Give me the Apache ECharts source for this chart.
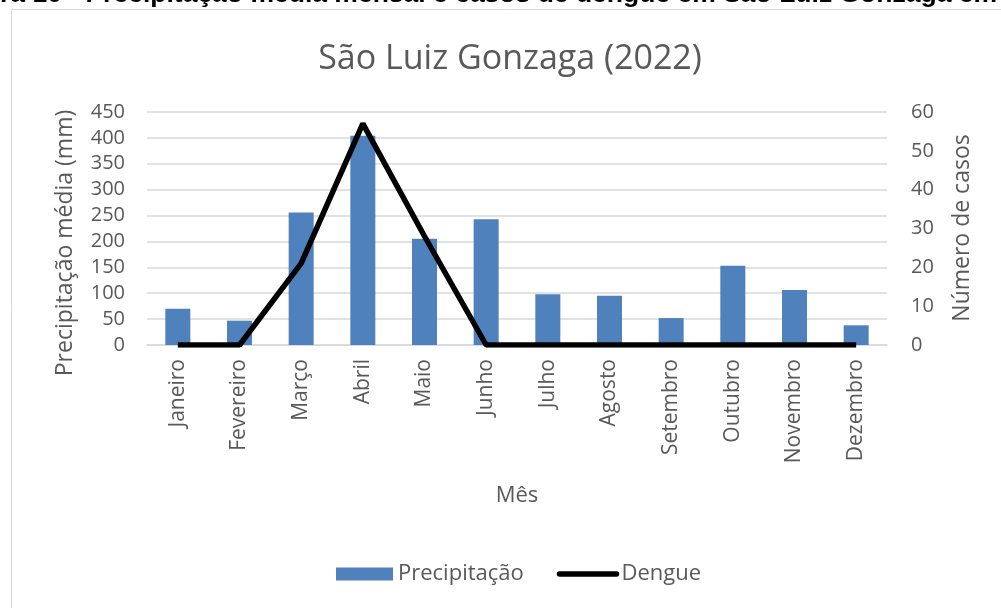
<!DOCTYPE html>
<html>
<head>
<meta charset="utf-8">
<script src="https://cdn.jsdelivr.net/npm/echarts@6/dist/echarts.min.js"></script>
<style>
  html, body { margin: 0; padding: 0; background: #fff; }
  #chart { width: 1001px; height: 608px; }
</style>
</head>
<body>
<div id="chart"></div>
<script>
// dados
const meses = ['Janeiro', 'Fevereiro', 'Março', 'Abril', 'Maio', 'Junho',
  'Julho', 'Agosto', 'Setembro', 'Outubro', 'Novembro', 'Dezembro'];
const precipitacao = [70, 47, 256, 404, 205, 243, 98, 95, 52, 153, 106, 38];
const dengue = [0, 0, 21, 57, 28, 0, 0, 0, 0, 0, 0, 0];
const ticksPrecip = [0, 450, 50];   // min, max, intervalo
const ticksCasos = [0, 60, 10];

const cinza = '#595959';
const fonte = '"Open Sans", Lato, sans-serif';

const myChart = echarts.init(document.getElementById('chart'));

myChart.setOption({
  animation: false,
  textStyle: { fontFamily: fonte },
  title: {
    text: 'São Luiz Gonzaga (2022)',
    left: 505,
    textAlign: 'center',
    top: 37,
    textStyle: { fontFamily: fonte, fontSize: 34, fontWeight: 'normal', color: cinza }
  },
  graphic: [
    {
      type: 'rect',
      shape: { x: 11.5, y: 9.5, width: 1000, height: 610 },
      style: { fill: 'none', stroke: '#d9d9d9', lineWidth: 1 },
      silent: true
    },
    {
      type: 'text',
      left: 0, top: -19,
      style: {
        text: 'ra 10 - Precipitação média mensal e casos de dengue em São Luiz Gonzaga em',
        font: 'bold 26.5px "Liberation Sans", Arial, sans-serif',
        fill: '#000'
      }
    },
    {
      type: 'text',
      x: 65, y: 243, rotation: Math.PI / 2,
      style: {
        text: 'Precipitação média (mm)',
        font: '23px ' + fonte,
        fill: cinza, align: 'center', verticalAlign: 'middle'
      }
    },
    {
      type: 'text',
      x: 962, y: 228, rotation: Math.PI / 2,
      style: {
        text: 'Número de casos',
        font: '23px ' + fonte,
        fill: cinza, align: 'center', verticalAlign: 'middle'
      }
    }
  ],
  legend: {
    top: 558,
    left: 331,
    itemGap: 33,
    itemWidth: 57,
    itemHeight: 13,
    textStyle: { fontFamily: fonte, fontSize: 22, color: cinza },
    data: [
      { name: 'Precipitação', icon: 'rect' },
      { name: 'Dengue', itemStyle: { opacity: 0 }, lineStyle: { width: 5.5, cap: 'round' } }
    ]
  },
  grid: { left: 147, right: 114, top: 112, bottom: 263 },
  xAxis: {
    type: 'category',
    data: meses,
    name: 'Mês',
    nameLocation: 'middle',
    nameGap: 140,
    nameTextStyle: { fontFamily: fonte, fontSize: 22, color: cinza },
    axisLine: { show: true, lineStyle: { color: '#d9d9d9', width: 1.5 } },
    axisTick: { show: false },
    axisLabel: {
      rotate: 90,
      interval: 0,
      margin: 14,
      fontFamily: fonte,
      fontSize: 21,
      color: cinza
    }
  },
  yAxis: [
    {
      type: 'value',
      min: ticksPrecip[0], max: ticksPrecip[1], interval: ticksPrecip[2],
      axisLine: { show: false },
      axisTick: { show: false },
      axisLabel: { margin: 22, fontFamily: fonte, fontSize: 20, color: cinza },
      splitLine: { lineStyle: { color: '#d9d9d9', width: 1.5 } }
    },
    {
      type: 'value',
      min: ticksCasos[0], max: ticksCasos[1], interval: ticksCasos[2],
      axisLine: { show: false },
      axisTick: { show: false },
      axisLabel: { margin: 24, fontFamily: fonte, fontSize: 20, color: cinza },
      splitLine: { show: false }
    }
  ],
  series: [
    {
      name: 'Precipitação',
      type: 'bar',
      yAxisIndex: 0,
      data: precipitacao,
      barWidth: 25,
      itemStyle: { color: '#4f81bd' }
    },
    {
      name: 'Dengue',
      type: 'line',
      yAxisIndex: 1,
      data: dengue,
      symbol: 'none',
      lineStyle: { color: '#000', width: 5.5 },
      itemStyle: { color: '#000' }
    }
  ]
});
</script>
</body>
</html>
